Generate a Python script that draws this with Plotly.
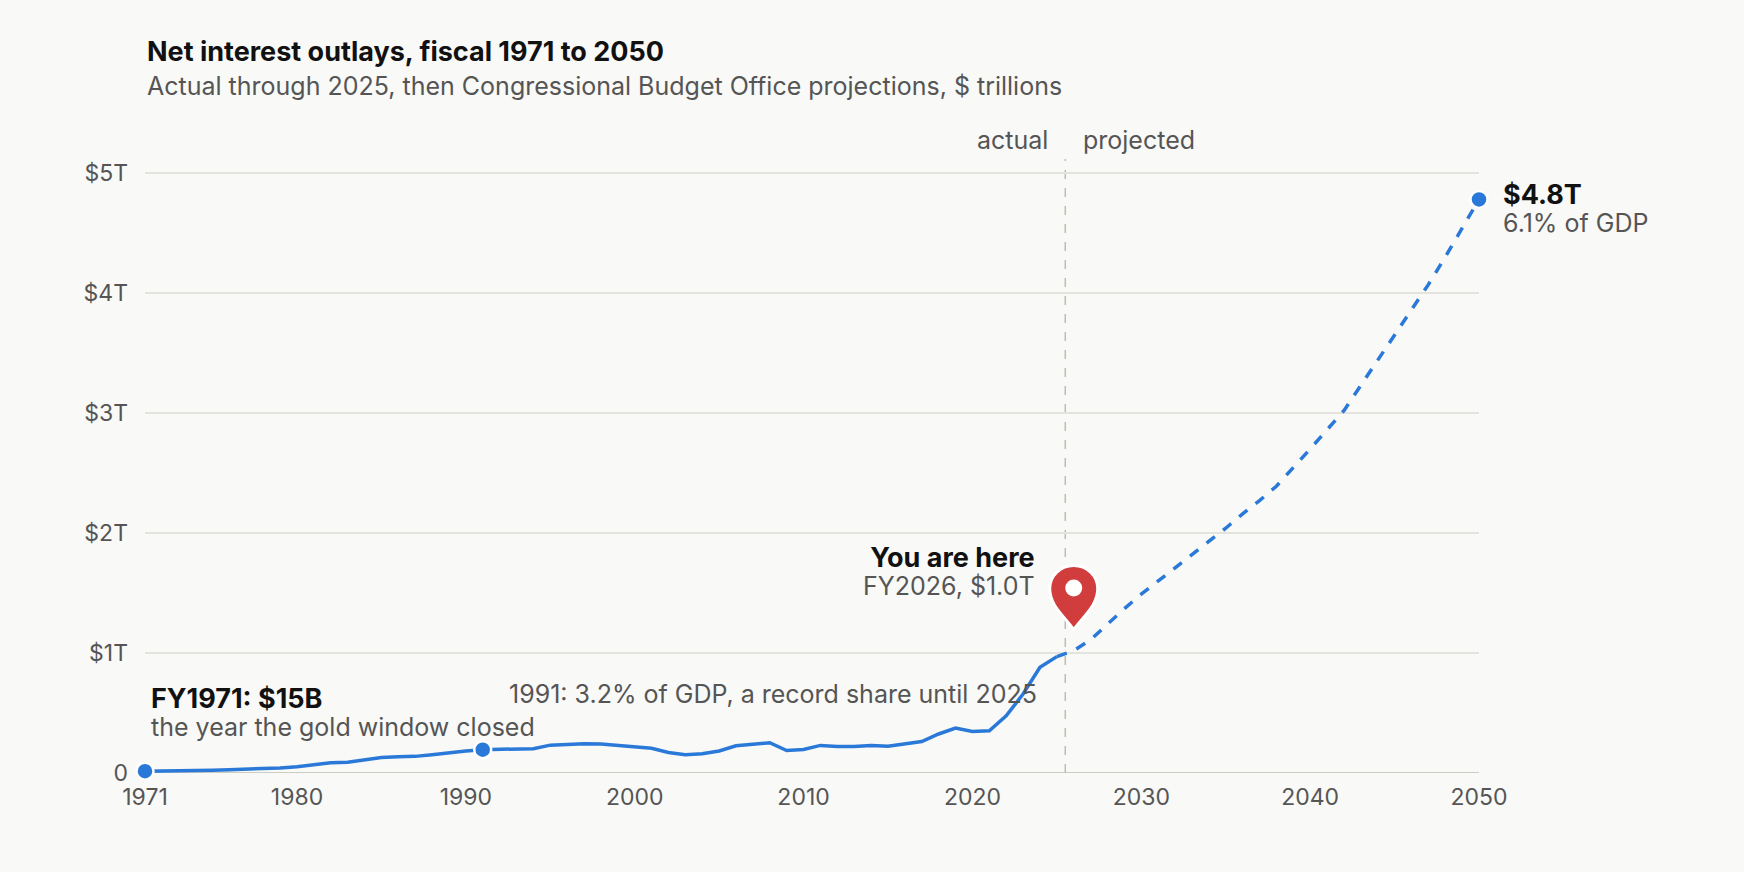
import plotly.graph_objects as go

# ---- data ($ trillions) ----
actual_years = list(range(1971, 2026))
actual_values = [
    0.0148, 0.0155, 0.0173, 0.0214, 0.0232, 0.0267, 0.0299, 0.0355, 0.0426, 0.0525,
    0.0688, 0.0850, 0.0898, 0.1111, 0.1295, 0.1360, 0.1386, 0.1518, 0.1690, 0.1843,
    0.1944, 0.1993, 0.1987, 0.2029, 0.2321, 0.2411, 0.2440, 0.2411, 0.2298, 0.2229,
    0.2062, 0.1709, 0.1531, 0.1602, 0.1840, 0.2266, 0.2371, 0.2528, 0.1869, 0.1962,
    0.2300, 0.2204, 0.2209, 0.2290, 0.2232, 0.2400, 0.2626, 0.3250, 0.3752, 0.3455,
    0.3523, 0.4759, 0.6583, 0.8810, 0.9700,
]
proj_years = list(range(2025, 2051))
proj_values = [
    0.970, 1.020, 1.110, 1.240, 1.370, 1.490, 1.600, 1.710, 1.820, 1.930,
    2.040, 2.160, 2.270, 2.390, 2.540, 2.700, 2.860, 3.020, 3.230, 3.440,
    3.650, 3.850, 4.070, 4.300, 4.540, 4.780,
]
y_tick_vals = [0, 1, 2, 3, 4, 5]
y_tick_text = ["0", "$1T", "$2T", "$3T", "$4T", "$5T"]
x_tick_vals = [1971, 1980, 1990, 2000, 2010, 2020, 2030, 2040, 2050]
x_tick_text = ["1971", "1980", "1990", "2000", "2010", "2020", "2030", "2040", "2050"]
highlight_years = [1971, 1991, 2050]
highlight_values = [0.0148, 0.1944, 4.780]
split_year = 2025.5
here_year = 2026
here_value = 1.020

BLUE = "#2a79d8"
BG = "#f9f9f7"
GRAY = "#555555"
DARK = "#111111"
FONT = "Inter, Roboto, sans-serif"
REG = 25
BOLD = 27
TICK = 23

fig = go.Figure()
fig.add_trace(go.Scatter(
    x=actual_years, y=actual_values, mode="lines",
    line=dict(color=BLUE, width=3.5), hoverinfo="skip", showlegend=False))
fig.add_trace(go.Scatter(
    x=proj_years, y=proj_values, mode="lines",
    line=dict(color=BLUE, width=3.5, dash="dash"), hoverinfo="skip", showlegend=False))
fig.add_trace(go.Scatter(
    x=highlight_years, y=highlight_values, mode="markers",
    marker=dict(color=BLUE, size=17, line=dict(color="white", width=2.5)),
    hoverinfo="skip", showlegend=False, cliponaxis=False))

# vertical split line
fig.add_shape(type="line", xref="x", yref="paper", x0=split_year, x1=split_year,
              y0=0, y1=1, line=dict(color="#bdbcb2", width=1.5, dash="dash"), layer="below")

# location pin anchored at the "you are here" point (pixel-sized path)
pin_path = ("M 0,21 C -10,35 -24,45 -24,62 C -24,75 -13,85 0,85 "
            "C 13,85 24,75 24,62 C 24,45 10,35 0,21 Z")
fig.add_shape(type="path", xref="x", yref="y", xsizemode="pixel", ysizemode="pixel",
              xanchor=here_year, yanchor=here_value, path=pin_path,
              fillcolor="#d13d3d", line=dict(color="white", width=3), layer="above")
fig.add_shape(type="circle", xref="x", yref="y", xsizemode="pixel", ysizemode="pixel",
              xanchor=here_year, yanchor=here_value, x0=-8.5, x1=8.5, y0=54, y1=71,
              fillcolor="white", line=dict(width=0), layer="above")

L, R, T, B = 145, 265, 159, 99
W, H = 1744, 872
PW, PH = W - L - R, H - T - B


def px(xp):
    return (xp - L) / PW


def py(yp):
    return (H - B - yp) / PH


def two_line(head, sub):
    return (f'<span style="font-size:{BOLD}px;color:{DARK}"><b>{head}</b></span><br>'
            f'<span style="font-size:{REG}px;color:{GRAY}">{sub}</span>')


LINE_BASE = 21.5  # base font size -> line spacing ~28px

ann = []
# title & subtitle
ann.append(dict(text="<b>Net interest outlays, fiscal 1971 to 2050</b>", xref="paper", yref="paper",
                x=px(145), y=py(52), xanchor="left", yanchor="middle", showarrow=False,
                font=dict(size=BOLD, color=DARK, family=FONT)))
ann.append(dict(text="Actual through 2025, then Congressional Budget Office projections, $ trillions",
                xref="paper", yref="paper", x=px(145), y=py(85.5), xanchor="left", yanchor="middle",
                showarrow=False, font=dict(size=REG, color=GRAY, family=FONT)))
# actual / projected
ann.append(dict(text="actual", xref="x", yref="paper", x=split_year, y=py(140), xanchor="right",
                yanchor="middle", xshift=-15, showarrow=False, font=dict(size=REG, color=GRAY, family=FONT)))
ann.append(dict(text="projected", xref="x", yref="paper", x=split_year, y=py(140), xanchor="left",
                yanchor="middle", xshift=16, showarrow=False, font=dict(size=REG, color=GRAY, family=FONT)))
# end label
ann.append(dict(text=two_line("$4.8T", "6.1% of GDP"), xref="x", yref="y",
                x=highlight_years[2], y=highlight_values[2], xanchor="left", yanchor="middle",
                align="left", xshift=22, yshift=-8.5, showarrow=False,
                font=dict(size=LINE_BASE, color=GRAY, family=FONT)))
# you are here
ann.append(dict(text=two_line("You are here", "FY2026, $1.0T"), xref="x", yref="y",
                x=here_year, y=here_value, xanchor="right", yanchor="middle", align="right",
                xshift=-37, yshift=79.5, showarrow=False,
                font=dict(size=LINE_BASE, color=GRAY, family=FONT)))
# 1971
ann.append(dict(text=two_line("FY1971: $15B", "the year the gold window closed"), xref="x", yref="y",
                x=highlight_years[0], y=highlight_values[0], xanchor="left", yanchor="middle",
                align="left", xshift=4, yshift=59.5, showarrow=False,
                font=dict(size=LINE_BASE, color=GRAY, family=FONT)))
# 1991
ann.append(dict(text="1991: 3.2% of GDP, a record share until 2025", xref="x", yref="y",
                x=highlight_years[1], y=highlight_values[1], xanchor="left", yanchor="middle",
                xshift=24, yshift=56, showarrow=False, font=dict(size=REG, color=GRAY, family=FONT)))

fig.update_layout(
    width=W, height=H,
    margin=dict(l=L, r=R, t=T, b=B, pad=0),
    paper_bgcolor=BG, plot_bgcolor=BG,
    font=dict(family=FONT, color=GRAY, size=REG),
    annotations=ann,
    showlegend=False,
    xaxis=dict(range=[1971, 2050], tickvals=x_tick_vals, ticktext=x_tick_text,
               showgrid=False, zeroline=False, showline=False, ticks="",
               tickfont=dict(size=TICK, color=GRAY, family=FONT), ticklabelstandoff=8),
    yaxis=dict(range=[0, 5.117], tickvals=y_tick_vals, ticktext=y_tick_text,
               showgrid=True, gridcolor="#e4e3dd", gridwidth=1.5, zeroline=False,
               showline=False, ticks="", ticklabelstandoff=16,
               tickfont=dict(size=TICK, color=GRAY, family=FONT)),
)
# baseline axis line at zero
fig.add_shape(type="line", xref="paper", yref="y", x0=0, x1=1, y0=0, y1=0,
              line=dict(color="#bebdb0", width=1.5), layer="below")

fig.write_html(
    "out.html",
    config={"displayModeBar": False},
    post_script="document.body.style.margin='0';document.body.style.overflow='hidden';"
                "document.body.style.background='#f9f9f7';",
)
